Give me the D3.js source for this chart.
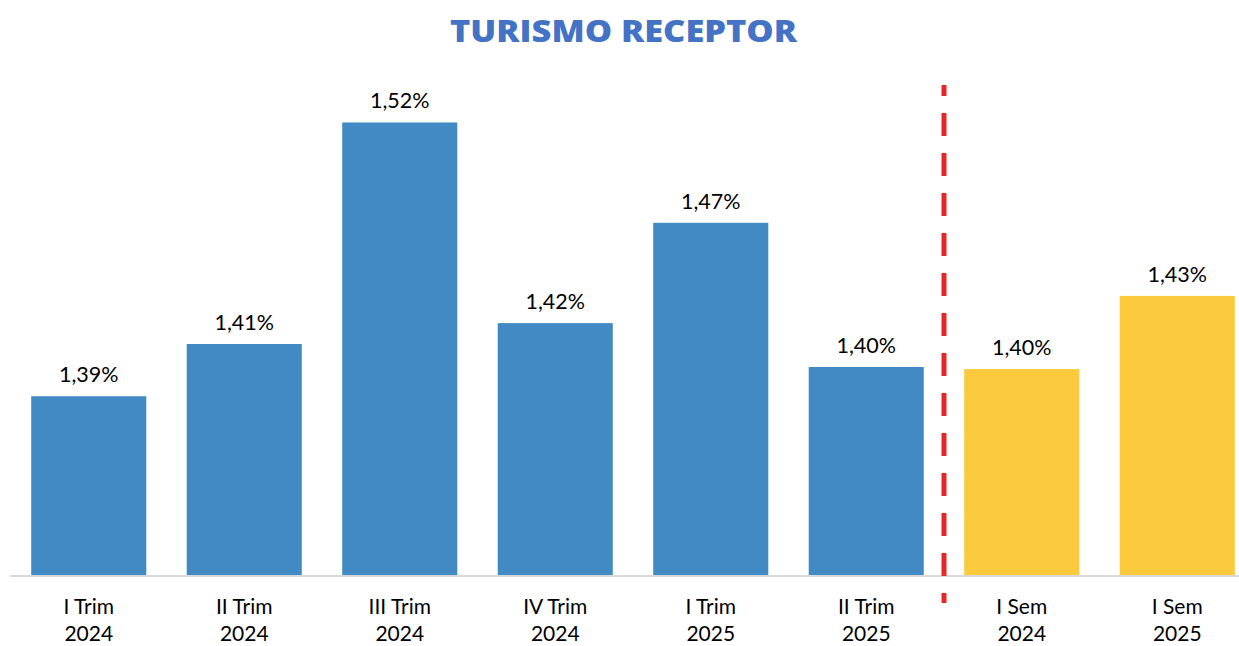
<!DOCTYPE html>
<html>
<head>
<meta charset="utf-8">
<script src="https://cdn.jsdelivr.net/npm/d3@7"></script>
<style>
  body { margin: 0; background: #fff; }
</style>
</head>
<body>
<div id="chart"></div>
<script>
// data
const periods = ["I Trim", "II Trim", "III Trim", "IV Trim", "I Trim", "II Trim", "I Sem", "I Sem"];
const years = ["2024", "2024", "2024", "2024", "2025", "2025", "2024", "2025"];
const values = [1.386, 1.411, 1.517, 1.421, 1.469, 1.400, 1.399, 1.434];
const kinds = ["trim", "trim", "trim", "trim", "trim", "trim", "sem", "sem"];

const width = 1239;
const height = 646;
const baseline = 576;

const colors = { trim: "#418AC4", sem: "#FAC93C" };

const svg = d3.select("#chart")
    .append("svg")
    .attr("width", width)
    .attr("height", height);

const x = d3.scaleBand()
    .domain(d3.range(values.length))
    .range([11, 1255])
    .paddingInner(0.26)
    .paddingOuter(0.13);

const y = d3.scaleLinear()
    .domain([1.30, 1.55])
    .range([baseline, 53.5]);

// title
svg.append("text")
    .attr("x", 450)
    .attr("y", 42)
    .attr("textLength", 347)
    .attr("lengthAdjust", "spacingAndGlyphs")
    .style("font-family", "'Open Sans', sans-serif")
    .style("font-weight", 800)
    .style("font-size", "30px")
    .style("fill", "#4472C4")
    .text("TURISMO RECEPTOR");

// bars
svg.selectAll("rect.bar")
    .data(values)
    .enter()
    .append("rect")
    .attr("class", "bar")
    .attr("x", (d, i) => x(i))
    .attr("y", d => y(d))
    .attr("width", x.bandwidth())
    .attr("height", d => baseline - y(d))
    .style("fill", (d, i) => colors[kinds[i]]);

// value labels
svg.selectAll("text.value")
    .data(values)
    .enter()
    .append("text")
    .attr("class", "value")
    .attr("x", (d, i) => x(i) + x.bandwidth() / 2)
    .attr("y", d => y(d) - 14)
    .attr("text-anchor", "middle")
    .style("font-family", "Lato, sans-serif")
    .style("font-size", "21.5px")
    .style("fill", "#000")
    .text(d => d.toFixed(2).replace(".", ",") + "%");

// x axis
const xAxis = svg.append("g")
    .attr("transform", `translate(0, ${baseline})`)
    .call(d3.axisBottom(x).tickSize(0).tickSizeOuter(0).tickFormat(""));

xAxis.select(".domain")
    .attr("d", `M10,0H${width}`)
    .style("stroke", "#D9D9D9")
    .style("stroke-width", 2);

xAxis.selectAll(".tick text").remove();

const tickText = xAxis.selectAll(".tick")
    .append("text")
    .attr("text-anchor", "middle")
    .style("font-family", "Lato, sans-serif")
    .style("font-size", "21px")
    .style("fill", "#000");

tickText.append("tspan")
    .attr("x", 0)
    .attr("y", 38)
    .text(i => periods[i]);

tickText.append("tspan")
    .attr("x", 0)
    .attr("y", 65)
    .text(i => years[i]);

// dashed separator between quarters and semesters
const sepX = (x(5) + x.bandwidth() + x(6)) / 2;
svg.append("line")
    .attr("x1", sepX)
    .attr("x2", sepX)
    .attr("y1", 85)
    .attr("y2", 603)
    .style("stroke", "#E8262A")
    .style("stroke-width", 5)
    .style("stroke-dasharray", "23,17")
    .style("stroke-dashoffset", 12);
</script>
</body>
</html>
